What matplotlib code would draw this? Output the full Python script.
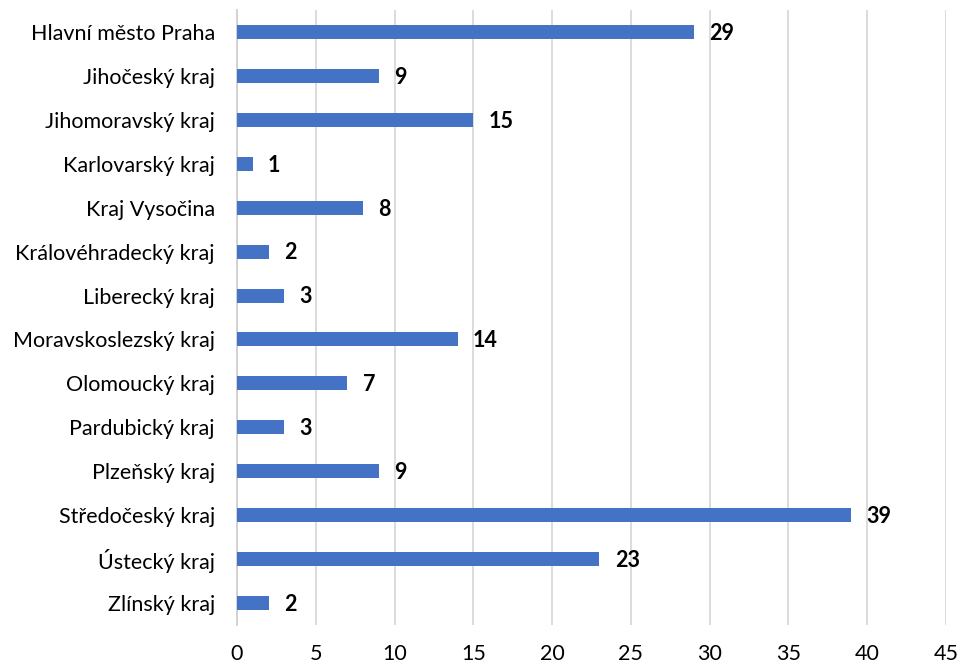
import matplotlib
matplotlib.use("Agg")
import matplotlib.pyplot as plt

regions = ["Hlavní město Praha", "Jihočeský kraj", "Jihomoravský kraj", "Karlovarský kraj",
           "Kraj Vysočina", "Královéhradecký kraj", "Liberecký kraj", "Moravskoslezský kraj",
           "Olomoucký kraj", "Pardubický kraj", "Plzeňský kraj", "Středočeský kraj",
           "Ústecký kraj", "Zlínský kraj"]
values = [29, 9, 15, 1, 8, 2, 3, 14, 7, 3, 9, 39, 23, 2]
xticks = [0, 5, 10, 15, 20, 25, 30, 35, 40, 45]

plt.rcParams['font.family'] = ['Lato', 'DejaVu Sans']

fig = plt.figure(figsize=(9.6, 6.66), dpi=100)
ax = fig.add_axes([237/960, 1-625/666, (946-237)/960, 615/666])

y = list(range(len(regions)))
ax.barh(y, values, height=0.32, color='#4472C4', zorder=3)
for yi, v in zip(y, values):
    ax.annotate(str(v), (v, yi), xytext=(11, -1), textcoords='offset points',
                ha='left', va='center', fontsize=15.5, fontweight='bold', color='black')

ax.set_xlim(0, 45)
ax.set_ylim(len(regions)-0.5, -0.5)
ax.set_xticks(xticks)
ax.set_xticklabels([str(t) for t in xticks], fontsize=15.5)
ax.set_yticks(y)
ax.set_yticklabels(regions, fontsize=15.5)
ax.tick_params(axis='both', length=0, colors='black')
ax.tick_params(axis='x', pad=14)
ax.tick_params(axis='y', pad=16)
ax.xaxis.grid(True, color='#D9D9D9', linewidth=1.3, zorder=0)
for s in ['top', 'right', 'bottom']:
    ax.spines[s].set_visible(False)
ax.spines['left'].set_color('#D0D0D0')
ax.spines['left'].set_linewidth(1.3)

fig.savefig('out.png', dpi=100)
